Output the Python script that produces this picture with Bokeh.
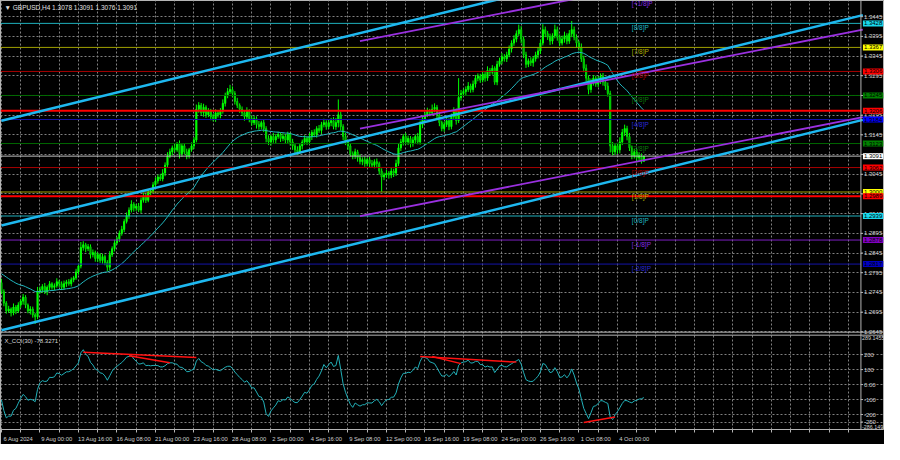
import numpy as np
from bokeh.plotting import figure
from bokeh.models import (Range1d, LinearAxis, FixedTicker, Label, Span, Grid,
                          CustomJSTickFormatter)
from bokeh.core.properties import value
from bokeh.embed import file_html
from bokeh.resources import INLINE

FONT = "Liberation Sans"

# ---------------- data ----------------
# H4 closes, first bar 6 Aug 2024 08:00
close = [
    1.2747, 1.2718, 1.2698, 1.2703, 1.2693, 1.2708, 1.2698, 1.2713, 1.2723, 1.2733,
    1.2713, 1.2698, 1.2703, 1.2688, 1.2683, 1.2747,
    1.2752, 1.2760, 1.2747, 1.2758, 1.2767, 1.2758, 1.2762, 1.2772, 1.2767, 1.2758,
    1.2767, 1.2772, 1.2767, 1.2777, 1.2782, 1.2797, 1.2812, 1.2859,
    1.2866, 1.2856, 1.2861, 1.2841, 1.2846, 1.2831, 1.2841, 1.2826, 1.2836, 1.2821,
    1.2809, 1.2841,
    1.2856, 1.2871, 1.2881, 1.2895, 1.2905, 1.2925, 1.2940, 1.2954, 1.2969, 1.2959,
    1.2964, 1.2954, 1.2979, 1.2989, 1.2979,
    1.2999, 1.3003, 1.3018, 1.3028, 1.3038, 1.3033, 1.3048, 1.3068, 1.3092, 1.3102,
    1.3112, 1.3107, 1.3122, 1.3097, 1.3117, 1.3102, 1.3092, 1.3107, 1.3117, 1.3132,
    1.3210, 1.3220, 1.3201, 1.3215, 1.3196, 1.3205, 1.3191, 1.3186, 1.3201, 1.3196,
    1.3205, 1.3225, 1.3245, 1.3255, 1.3260,
    1.3250, 1.3230, 1.3220, 1.3210, 1.3201, 1.3191, 1.3205, 1.3186, 1.3176, 1.3186,
    1.3171, 1.3166, 1.3176, 1.3161, 1.3136, 1.3127, 1.3141, 1.3132, 1.3141, 1.3146,
    1.3136, 1.3141, 1.3132, 1.3146, 1.3127,
    1.3117, 1.3107, 1.3102, 1.3117, 1.3127, 1.3136, 1.3127, 1.3141, 1.3151, 1.3146,
    1.3161, 1.3156, 1.3171, 1.3176, 1.3166, 1.3176, 1.3181, 1.3166, 1.3176, 1.3196,
    1.3166, 1.3141, 1.3127, 1.3117, 1.3097, 1.3092, 1.3102, 1.3087, 1.3077, 1.3082,
    1.3072, 1.3082, 1.3072, 1.3068, 1.3077, 1.3072, 1.3053, 1.3038, 1.3043, 1.3048,
    1.3043, 1.3053, 1.3048, 1.3072, 1.3112, 1.3127, 1.3141, 1.3127, 1.3136, 1.3122,
    1.3132, 1.3141, 1.3127, 1.3171, 1.3186, 1.3196, 1.3205, 1.3201, 1.3210, 1.3215,
    1.3196, 1.3176, 1.3161,
    1.3171, 1.3181, 1.3166, 1.3191, 1.3205, 1.3181, 1.3240, 1.3250, 1.3255, 1.3260,
    1.3269, 1.3260, 1.3274, 1.3289, 1.3294, 1.3284, 1.3299, 1.3289, 1.3309, 1.3304,
    1.3314, 1.3279, 1.3324, 1.3333, 1.3343, 1.3338, 1.3348, 1.3363, 1.3378, 1.3388,
    1.3402, 1.3412, 1.3388,
    1.3348, 1.3324, 1.3333, 1.3328, 1.3338, 1.3348, 1.3358, 1.3378, 1.3412, 1.3402,
    1.3393, 1.3383, 1.3397, 1.3412, 1.3393, 1.3378, 1.3388, 1.3397, 1.3383, 1.3402,
    1.3412, 1.3393, 1.3378, 1.3368, 1.3338, 1.3314, 1.3289, 1.3260, 1.3279, 1.3289,
    1.3274, 1.3284, 1.3294, 1.3279, 1.3269, 1.3250,
    1.3117, 1.3102, 1.3117, 1.3107, 1.3127, 1.3151, 1.3161, 1.3141, 1.3112, 1.3092,
    1.3102, 1.3087, 1.3092, 1.3078, 1.3091,
]

# upper / lower shadow length of each bar, in pips
hi_wick = [
    10, 6, 5, 8, 4, 9, 5, 7, 6, 8, 5, 4, 7, 6, 5, 12, 8, 6, 9, 5,
    7, 4, 6, 9, 5, 6, 8, 5, 7, 6, 5, 8, 6, 14, 9, 5, 7, 6, 8, 5,
    6, 4, 7, 5, 6, 9, 6, 8, 5, 7, 9, 6, 8, 7, 10, 5, 6, 8, 7, 9,
    6, 8, 5, 7, 9, 6, 8, 10, 7, 9, 8, 6, 10, 5, 9, 7, 6, 8, 5, 9,
    7, 12, 8, 6, 9, 5, 8, 6, 7, 9, 6, 8, 10, 7, 9, 12, 8, 6, 9, 5,
    7, 6, 10, 5, 8, 7, 6, 9, 5, 7, 6, 8, 5, 9, 6, 7, 5, 8, 6, 7,
    5, 8, 6, 9, 7, 6, 8, 5, 9, 6, 8, 6, 9, 7, 10, 6, 8, 7, 9, 12,
    39, 8, 6, 9, 5, 7, 6, 8, 5, 9, 6, 8, 5, 7, 9, 6, 8, 5, 7, 6,
    8, 5, 9, 6, 10, 12, 8, 6, 9, 7, 6, 8, 5, 9, 10, 8, 7, 9, 6, 12,
    10, 6, 8, 5, 7, 9, 6, 8, 10, 7, 49, 9, 7, 8, 10, 6, 9, 8, 7, 6,
    9, 7, 10, 6, 8, 5, 9, 8, 10, 7, 8, 9, 7, 10, 8, 13, 9, 7, 8, 6,
    9, 7, 8, 10, 9, 14, 8, 7, 9, 6, 13, 8, 7, 9, 10, 6, 9, 22, 8, 7,
    6, 9, 8, 10, 7, 9, 8, 6, 10, 7, 8, 6, 9, 7, 10, 6, 8, 12, 9, 10,
    7, 9, 6, 8, 7, 9, 6, 0,
]
lo_wick = [
    6, 8, 7, 5, 9, 6, 8, 5, 7, 9, 8, 6, 9, 7, 18, 6, 5, 8, 6, 9,
    7, 6, 8, 5, 9, 7, 6, 8, 5, 7, 6, 5, 7, 6, 8, 9, 6, 10, 7, 8,
    9, 6, 8, 7, 10, 8, 6, 7, 5, 8, 6, 7, 5, 8, 6, 9, 7, 5, 8, 6,
    7, 5, 8, 6, 9, 7, 5, 6, 8, 7, 6, 9, 7, 5, 12, 8, 6, 9, 7, 5,
    8, 6, 9, 7, 10, 8, 6, 9, 7, 8, 7, 9, 6, 8, 7, 6, 9, 8, 7, 9,
    8, 10, 7, 9, 8, 6, 10, 8, 7, 9, 10, 8, 9, 7, 8, 6, 9, 7, 10, 8,
    9, 10, 12, 8, 6, 9, 7, 8, 6, 9, 7, 8, 6, 9, 7, 8, 6, 9, 7, 8,
    12, 10, 9, 8, 10, 7, 9, 8, 10, 7, 9, 8, 7, 9, 6, 8, 10, 9, 37, 8,
    7, 9, 8, 10, 7, 6, 8, 9, 7, 8, 9, 7, 8, 6, 7, 9, 8, 6, 9, 7,
    8, 10, 9, 7, 8, 6, 9, 7, 8, 10, 6, 8, 7, 9, 6, 8, 7, 9, 8, 7,
    6, 9, 7, 8, 6, 7, 8, 6, 9, 7, 8, 6, 9, 7, 8, 6, 10, 8, 9, 7,
    8, 10, 7, 9, 8, 6, 9, 7, 10, 8, 7, 9, 8, 6, 9, 8, 7, 9, 8, 10,
    9, 8, 10, 9, 12, 8, 9, 7, 8, 10, 9, 10, 8, 17, 9, 8, 10, 9, 8, 9,
    10, 8, 9, 7, 12, 8, 6, 2,
]

# closes before the first visible bar (indicator warm-up only)
pre_close = [1.2855, 1.2850, 1.2862, 1.2848, 1.2835, 1.2840, 1.2790, 1.2770, 1.2765, 1.2780,
             1.2760, 1.2745, 1.2758, 1.2790, 1.2832, 1.2805, 1.2798, 1.2802, 1.2785, 1.2770,
             1.2795, 1.2810, 1.2804, 1.2790, 1.2778, 1.2792, 1.2775, 1.2768, 1.2772, 1.2770]

x_tick_labels = ["6 Aug 2024", "9 Aug 00:00", "13 Aug 16:00", "16 Aug 08:00", "21 Aug 00:00",
                 "23 Aug 16:00", "28 Aug 08:00", "2 Sep 00:00", "4 Sep 16:00", "9 Sep 08:00",
                 "12 Sep 00:00", "16 Sep 16:00", "19 Sep 08:00", "24 Sep 00:00", "26 Sep 16:00",
                 "1 Oct 08:00", "4 Oct 00:00"]

price_ticks = [1.2645, 1.2695, 1.2745, 1.2795, 1.2845, 1.2895, 1.2945, 1.2995, 1.3045,
               1.3095, 1.3145, 1.3195, 1.3245, 1.3295, 1.3345, 1.3395, 1.3445]

mm_names = ["[+1/8]P", "[8/8]P", "[7/8]P", "[6/8]P", "[5/8]P", "[4/8]P", "[3/8]P",
            "[2/8]P", "[1/8]P", "[0/8]P", "[-1/8]P", "[-2/8]P"]
mm_levels = [1.3489, 1.3428, 1.3367, 1.3306, 1.3245, 1.3184, 1.3123,
             1.3062, 1.3000, 1.2939, 1.2878, 1.2817]
mm_line_colors = ["#7a1fc0", "#1eb0bc", "#a0a000", "#a80000", "#006800", "#1414a8", "#006800",
                  "#a80000", "#a0a000", "#1eb0bc", "#7a1fc0", "#1414a8"]
mm_text_colors = ["#8a2be2", "#1fb5c0", "#b0b000", "#b00000", "#0a7a0a", "#2828d8", "#0a7a0a",
                  "#b00000", "#b0b000", "#1fb5c0", "#8a2be2", "#2828d8"]
mm_box_colors = [None, "#18d8ec", "#ffff00", "#ff0000", "#008000", "#0000ff", "#008000",
                 "#ff0000", "#ffff00", "#18d8ec", "#8000c0", "#0000c0"]

sr_levels = [1.3206, 1.2989]
last_price = 1.3091

cyan_channel = dict(i0=0, i1=358, p0=1.2915, p1=1.3449, half=0.0266)
purple_channel = dict(i0=149, i1=358, p0=1.3161, p1=1.3412, half=0.0222)

div_x0 = [34, 53, 174, 179, 242]
div_y0 = [216, 192, 187, 187, -253]
div_x1 = [81, 70, 214, 191, 255]
div_y1 = [181, 145, 150, 140, -216]

cci_levels = [200, 100, 0, -100, -200, -250]
cci_level_txt = ["200", "100", "0.00", "-100", "-200", "-250"]
cci_label = "X_CCI(30) -78.3271"
cci_max_txt, cci_min_txt = "289.1455", "-286.149"
title_txt = "\u25BC GBPUSD,H4  1.3078 1.3091 1.3076 1.3091"

# ---------------- derived ----------------
c = np.array(close)
idx = np.arange(len(c))
o = np.concatenate([[pre_close[-1]], c[:-1]])
hi = np.maximum(o, c) + np.array(hi_wick) * 1e-4
lo = np.minimum(o, c) - np.array(lo_wick) * 1e-4

pre = np.array(pre_close)
cl_all = np.concatenate([pre, c])
tp_all = np.concatenate([pre, (hi + lo + c) / 3.0])

N = 30
cci = []
for i in range(len(pre), len(tp_all)):
    w = tp_all[i - N + 1:i + 1]
    m = w.mean()
    d = np.abs(w - m).mean()
    cci.append((tp_all[i] - m) / (0.015 * d))
cci = np.array(cci)

P = 20
s = cl_all[:P].mean()
smma = []
for i in range(P, len(cl_all)):
    s = (s * (P - 1) + cl_all[i]) / P
    if i >= len(pre):
        smma.append(s)
smma = np.array(smma)

# ---------------- geometry: two panes + price scale inside one frame ----------------
F1 = 334 / 432.0
F2 = 337 / 432.0
PT, P_F1 = 1.34861, 1.26441
PB = PT - (PT - P_F1) / F1
C_F2, CB = 330.0, -300.0
CT = CB + (C_F2 - CB) / (1 - F2)

XS, XE = -0.4, 357.2              # chart area (bars)
XR = XS + (XE - XS) * 900.0 / 876.0  # frame includes the price-scale strip

p = figure(width=884, height=444, x_range=Range1d(XS, XR), y_range=Range1d(PB, PT),
           output_backend="svg", toolbar_location=None, min_border=0,
           x_axis_location=None, y_axis_location=None,
           background_fill_color="#000000", border_fill_color="#000000",
           outline_line_color="#b4b4b4")
p.extra_y_ranges = {"cci": Range1d(CB, CT)}
for g in list(p.center):
    if isinstance(g, Grid):
        p.center.remove(g)


def cci_to_price(v):
    return PB + (v - CB) / (CT - CB) * (PT - PB)


GRID = "#808080"
p.center.append(Grid(dimension=0, ticker=FixedTicker(ticks=list(range(0, 356, 8))),
                     grid_line_color=GRID, grid_line_dash="2 2", grid_line_width=1))
p.center.append(Grid(dimension=1, bounds=(XS, XE),
                     ticker=FixedTicker(ticks=price_ticks + [cci_to_price(v) for v in cci_levels]),
                     grid_line_color=GRID, grid_line_dash="2 2", grid_line_width=1))

# candles
up = c >= o
p.segment(x0=idx, y0=lo, x1=idx, y1=hi, line_color="#00ff00", line_width=1)
p.vbar(x=idx[up], width=0.45, top=c[up], bottom=o[up], fill_color="#00ff00",
       line_color="#00ff00", line_width=1)
p.vbar(x=idx[~up], width=0.45, top=o[~up], bottom=c[~up], fill_color="#005000",
       line_color="#00e000", line_width=1)

# moving average
p.line(idx, smma, line_color="#22b8c0", line_width=1)

# Murrey levels, S/R lines, last price line
for lvl, col in zip(mm_levels[1:], mm_line_colors[1:]):
    p.segment(x0=[XS], y0=[lvl], x1=[XE], y1=[lvl], line_color=col, line_width=1)
p.segment(x0=[XS], y0=[last_price], x1=[XE], y1=[last_price], line_color="#c0c0c0", line_width=1)
for lvl in sr_levels:
    p.segment(x0=[XS], y0=[lvl], x1=[XE], y1=[lvl], line_color="#ff0000", line_width=2)

# channels
for ch, col, lw in ((cyan_channel, "#1eb8f0", 2.5), (purple_channel, "#9a30e0", 1.8)):
    for k in (-1, 0, 1):
        p.line([ch["i0"], ch["i1"]],
               [ch["p0"] + k * ch["half"], ch["p1"] + k * ch["half"]],
               line_color=col, line_width=lw)

# CCI
p.line(idx, cci, y_range_name="cci", line_color="#22b0b8", line_width=1)
p.segment(x0=div_x0, y0=div_y0, x1=div_x1, y1=div_y1, y_range_name="cci",
          line_color="#ff1010", line_width=1.5)

# pane borders
p.add_layout(Span(location=P_F1, dimension="width", line_color="#b4b4b4", line_width=1))
p.add_layout(Span(location=C_F2, dimension="width", line_color="#b4b4b4", line_width=1,
                  y_range_name="cci"))
p.add_layout(Span(location=XE, dimension="height", line_color="#b4b4b4", line_width=1))

# price scale (inside the frame, right strip)
SCALE_TXT = "#d0d0d0"
p.segment(x0=[XE] * len(price_ticks), y0=price_ticks, x1=[XE + 0.9] * len(price_ticks),
          y1=price_ticks, line_color="#b4b4b4", line_width=1)
p.text(x=[XE] * len(price_ticks), y=price_ticks, text=[f"{t:.4f}" for t in price_ticks],
       x_offset=3, text_color=SCALE_TXT, text_font=value(FONT), text_font_size="6px",
       text_baseline="middle", text_align="left")
p.segment(x0=[XE] * len(cci_levels), y0=cci_levels, x1=[XE + 0.9] * len(cci_levels),
          y1=cci_levels, y_range_name="cci", line_color="#b4b4b4", line_width=1)
p.text(x=[XE] * len(cci_levels), y=cci_levels, text=cci_level_txt, y_range_name="cci",
       x_offset=3, text_color=SCALE_TXT, text_font=value(FONT), text_font_size="6px",
       text_baseline="middle", text_align="left")
p.text(x=[XE], y=[C_F2], text=[cci_max_txt], y_range_name="cci", x_offset=1, y_offset=1,
       text_color=SCALE_TXT, text_font=value(FONT), text_font_size="5.4px",
       text_baseline="top", text_align="left")
p.text(x=[XE], y=[CB], text=[cci_min_txt], y_range_name="cci", x_offset=1, y_offset=-1,
       text_color=SCALE_TXT, text_font=value(FONT), text_font_size="5.4px",
       text_baseline="bottom", text_align="left")

# x axis
SHIFT, STEP = 7.0, 16
xfmt = CustomJSTickFormatter(args=dict(labels=x_tick_labels, step=STEP, shift=SHIFT), code="""
const i = Math.round((tick - shift) / step);
return (i >= 0 && i < labels.length) ? labels[i] : "";
""")
xax = LinearAxis(ticker=FixedTicker(ticks=[STEP * k + SHIFT for k in range(len(x_tick_labels))],
                                    minor_ticks=list(range(0, 356, 8))),
                 formatter=xfmt)
xax.axis_line_color = None
xax.major_tick_out = 0
xax.major_tick_in = 0
xax.minor_tick_out = 3
xax.minor_tick_in = 0
xax.minor_tick_line_color = "#b4b4b4"
xax.major_label_standoff = 3
xax.major_label_text_color = SCALE_TXT
xax.major_label_text_font = FONT
xax.major_label_text_font_size = "5.8px"
p.add_layout(xax, "below")

# level texts on chart
for name, lvl, col in zip(mm_names, mm_levels, mm_text_colors):
    p.add_layout(Label(x=262, y=lvl, y_offset=-1, text=name, text_color=col,
                       text_font=FONT, text_font_size="6.5px", text_baseline="top"))

# price boxes at the right scale
boxes = [(lvl, col) for lvl, col in zip(mm_levels[1:], mm_box_colors[1:])]
boxes += [(lvl, "#ff0000") for lvl in sr_levels]
boxes += [(last_price, "#ffffff")]
for lvl, bg in boxes:
    p.add_layout(Label(x=XE, y=lvl, x_offset=2, text=f"{lvl:.4f}", text_color="#000000",
                       text_font=FONT, text_font_size="6px", text_baseline="middle",
                       background_fill_color=bg, padding=1))

p.add_layout(Label(x=XS, y=C_F2, x_offset=4, y_offset=-3, y_range_name="cci", text=cci_label,
                   text_color="#d8d8d8", text_font=FONT, text_font_size="6px",
                   text_baseline="top"))
p.add_layout(Label(x=XS, y=PT, x_offset=4, y_offset=-3, text=title_txt,
                   text_color="#e0e0e0", text_font=FONT, text_font_size="6.5px",
                   text_baseline="top"))

open("out.html", "w").write(file_html(p, INLINE))
